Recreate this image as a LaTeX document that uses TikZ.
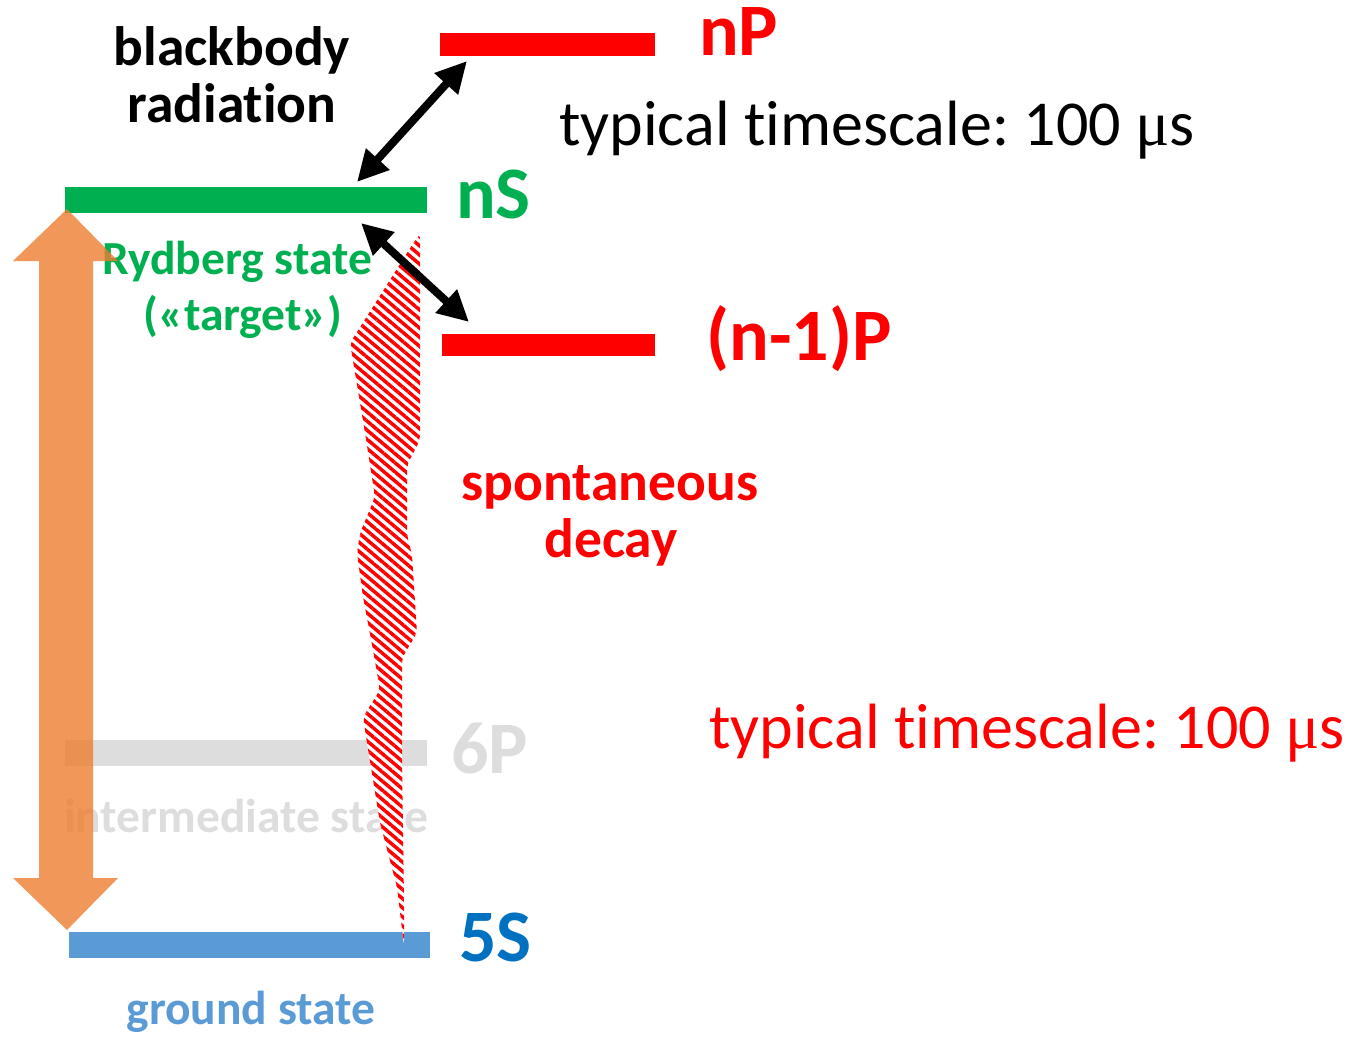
\documentclass[tikz,border=0pt]{standalone}
\usepackage{fontspec}
\setmainfont{Carlito}[Ligatures={NoCommon}]
\newfontfamily\mufont{Liberation Serif}
\usetikzlibrary{arrows.meta,patterns.meta}

\definecolor{lvred}{RGB}{255,0,0}
\definecolor{lvgreen}{RGB}{0,176,80}
\definecolor{barblue}{RGB}{91,155,213}
\definecolor{labelblue}{RGB}{0,112,192}
\definecolor{lvgray}{RGB}{221,221,221}
\definecolor{pumporange}{RGB}{237,125,49}

\frenchspacing
\begin{document}
\begin{tikzpicture}[x=1pt,y=-1pt,
  level/.style={rectangle, inner sep=0pt, outer sep=0pt, draw=none},
  lvlabel/.style={font=\fontsize{74}{80}\selectfont\bfseries, inner sep=0pt, anchor=base west},
  note/.style={font=\fontsize{55.5}{60}\selectfont\bfseries, inner sep=0pt, anchor=base},
  statename/.style={font=\fontsize{47.5}{50}\selectfont\bfseries, inner sep=0pt},
  timescale/.style={font=\fontsize{64}{70}\selectfont, inner sep=0pt, anchor=base west},
  transition/.style={line width=8pt,
    {Triangle[length=31pt,width=30pt]}-{Triangle[length=31pt,width=30pt]}},
]
\useasboundingbox (0,0) rectangle (1354,1036);

% energy levels
\node[level, fill=lvred, minimum width=215pt, minimum height=23pt] (nPbar) at (547.5,44.5) {};
\node[level, fill=lvgreen, minimum width=362pt, minimum height=26pt] (nSbar) at (246,200) {};
\node[level, fill=lvred, minimum width=213pt, minimum height=22pt] (n1Pbar) at (548.5,345) {};
\node[level, fill=lvgray, minimum width=362pt, minimum height=26pt] (sixPbar) at (246,753) {};
\node[level, fill=barblue, minimum width=361pt, minimum height=26pt] (fiveSbar) at (249.5,945) {};

% labels
\node[note] (bb1) at (232,65) {blackbody};
\node[note] (bb2) at (232,122) {radiation};
\node[lvlabel, text=lvred] (nPlab) at (699,55) {nP};
\node[timescale] (ts1) at (559,145) {typical timescale: 100 {\mufont μ}s};
\node[lvlabel, text=lvgreen] (nSlab) at (456,218) {nS};
\node[statename, anchor=base, text=lvgreen] (ryd1) at (237,274) {Rydberg state};
\node[statename, anchor=base, text=lvgreen] (ryd2) at (243,330) {(«target»)};
\node[lvlabel, text=lvred] (n1Plab) at (706,360) {(n-1)P};
\node[note, text=lvred] (sd1) at (610,500) {spontaneous};
\node[note, text=lvred] (sd2) at (611,557) {decay};
\node[timescale, text=lvred] (ts2) at (709,748) {typical timescale: 100 {\mufont μ}s};
\node[lvlabel, text=lvgray] (sixPlab) at (451,773) {6P};
\node[statename, anchor=base west, text=lvgray] (intlab) at (64,832) {intermediate state};
\node[lvlabel, text=labelblue] (fiveSlab) at (459,961) {5S};
\node[statename, anchor=base, text=barblue] (gndlab) at (251,1024) {ground state};

% spontaneous decay ribbon
\path[fill=white, rounded corners=6pt,
      postaction={pattern={Lines[angle=-40,distance=7pt,line width=3.5pt]}, pattern color=lvred}]
  (420,233) -- (420,440) -- (407,465) -- (407,535) -- (412,555) -- (417,633)
  -- (402,658) -- (402,760) -- (404,900) -- (404,946)
  -- (397,887) -- (380,823) -- (367,743) -- (363,717) -- (380,690) -- (373,650)
  -- (363,597) -- (357,553) -- (360,533) -- (375,497) -- (365,433) -- (350,343)
  -- (407,253) -- cycle;

% blackbody transitions
\coordinate (bbA) at (357,182);
\coordinate (bbB) at (467,61);
\coordinate (sdA) at (361,223);
\coordinate (sdB) at (469,322);
\draw[transition] (bbA) -- (bbB);
\draw[transition] (sdA) -- (sdB);

% excitation arrow
\fill[pumporange, fill opacity=0.8]
  (67,209) -- (118,261) -- (93,261) -- (93,878) -- (118,878) -- (67,930)
  -- (13,878) -- (39,878) -- (39,261) -- (13,261) -- cycle;
\end{tikzpicture}
\end{document}
